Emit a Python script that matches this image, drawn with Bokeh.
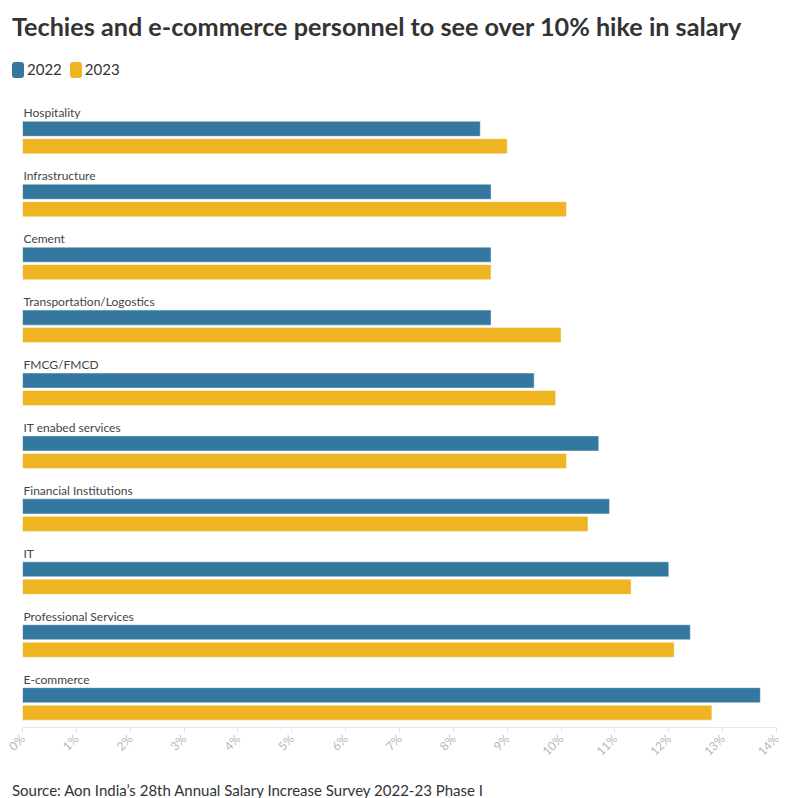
import math
from bokeh.plotting import figure
from bokeh.layouts import column
from bokeh.models import (ColumnDataSource, FactorRange, Range1d, FixedTicker, PrintfTickFormatter, Div)
from bokeh.core.properties import value
from bokeh.embed import file_html
from bokeh.resources import INLINE

categories = ["Hospitality", "Infrastructure", "Cement", "Transportation/Logostics", "FMCG/FMCD",
              "IT enabed services", "Financial Institutions", "IT", "Professional Services", "E-commerce"]
hike_2022 = [8.5, 8.7, 8.7, 8.7, 9.5, 10.7, 10.9, 12.0, 12.4, 13.7]
hike_2023 = [9.0, 10.1, 8.7, 10.0, 9.9, 10.1, 10.5, 11.3, 12.1, 12.8]
series_names = ["2022", "2023"]
tick_values = list(range(0, 15))

title_text = "Techies and e-commerce personnel to see over 10% hike in salary"
source_text = "Source: Aon India\u2019s 28th Annual Salary Increase Survey 2022-23 Phase I"

FONT = "Lato"
BLUE = "#35789f"
YELLOW = "#eeb422"
W = 796

title_div = Div(text=f'<div style="font-family:{FONT};font-weight:bold;font-size:25.2px;line-height:30px;'
                     f'color:#333333;padding:11px 0 0 12px;white-space:nowrap">{title_text}</div>',
                width=W, height=50, margin=0)

sq = ('display:inline-block;width:12px;height:16px;border-radius:3px;vertical-align:-3px;'
      'background:{c};margin-left:{m}px')
legend_html = (f'<div style="font-family:{FONT};font-size:15px;line-height:18px;color:#333333;'
               f'padding:10px 0 0 12px;white-space:nowrap">'
               f'<span style="{sq.format(c=BLUE, m=0)}"></span><span style="margin-left:3px">{series_names[0]}</span>'
               f'<span style="{sq.format(c=YELLOW, m=8)}"></span><span style="margin-left:3px">{series_names[1]}</span>'
               f'</div>')
legend_div = Div(text=legend_html, width=W, height=40, margin=0)

factors = []
for c in categories:
    factors += [(c, "label"), (c, "2022"), (c, "2023")]
factors = factors[::-1]

p = figure(width=W, height=682,
           x_range=Range1d(0, 14),
           y_range=FactorRange(factors=factors, group_padding=0.6, factor_padding=0,
                               range_padding=0.35, range_padding_units="absolute"),
           output_backend="svg", toolbar_location=None, y_axis_location=None,
           min_border_left=22, min_border_right=20, min_border_top=6, min_border_bottom=45)
p.outline_line_color = None
p.xgrid.visible = False
p.ygrid.visible = False
p.background_fill_color = "white"
p.border_fill_color = "white"

src22 = ColumnDataSource(dict(y=[(c, "2022") for c in categories], v=hike_2022))
src23 = ColumnDataSource(dict(y=[(c, "2023") for c in categories], v=hike_2023))
srcl = ColumnDataSource(dict(y=[(c, "label") for c in categories], x=[0] * len(categories), t=categories))

p.hbar(y="y", left=0, right="v", height=0.86, source=src22,
       fill_color=BLUE, line_color="white", line_alpha=0.45, line_width=1)
p.hbar(y="y", left=0, right="v", height=0.86, source=src23,
       fill_color=YELLOW, line_color="white", line_alpha=0.45, line_width=1)
p.text(x="x", y="y", text="t", source=srcl, text_font=value(FONT), text_font_size="12px",
       text_color="#444444", text_baseline="middle", x_offset=1, y_offset=1.5)

ax = p.xaxis[0]
ax.ticker = FixedTicker(ticks=tick_values)
ax.formatter = PrintfTickFormatter(format="%d%%")
ax.major_label_orientation = math.pi / 4
ax.major_label_text_font = FONT
ax.major_label_text_font_size = "12px"
ax.major_label_text_color = "#b8b8b8"
ax.axis_line_color = "#e6e6e6"
ax.major_tick_line_color = "#e6e6e6"
ax.major_tick_out = 5
ax.major_tick_in = 0
ax.minor_tick_line_color = None
ax.major_label_standoff = 4

source_div = Div(text=f'<div style="font-family:{FONT};font-size:15px;line-height:18px;color:#333333;'
                      f'padding:9px 0 0 12px;white-space:nowrap">{source_text}</div>',
                 width=W, height=26, margin=0)

layout = column(title_div, legend_div, p, source_div, spacing=0)
open("out.html", "w").write(file_html(layout, INLINE))
